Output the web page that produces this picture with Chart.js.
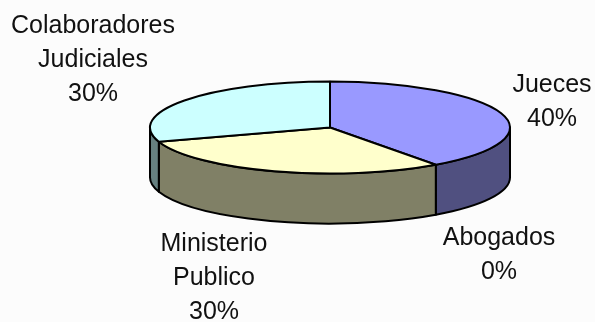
<!DOCTYPE html>
<html>
<head>
<meta charset="utf-8">
<style>html,body{margin:0;padding:0;background:#fcfcfc}canvas{display:block}</style>
<script src="https://cdn.jsdelivr.net/npm/chart.js@4"></script>
</head>
<body>
<canvas id="pie" width="595" height="322"></canvas>
<script>
// Distribution of survey respondents, drawn as a tilted pie with a side wall.
const categories = ['Jueces', 'Abogados', 'Ministerio Publico', 'Colaboradores Judiciales'];
const shares = [40, 0, 30, 30];
const labelLines = [['Jueces', '40%'], ['Abogados', '0%'], ['Ministerio', 'Publico', '30%'], ['Colaboradores', 'Judiciales', '30%']];
const topColors = ['#9999ff', '#993366', '#ffffcc', '#ccffff'];
const wallColors = ['#505080', '#4d1a33', '#808066', '#668080'];
const labelAnchors = [[552, 92], [499, 245], [214, 251], [93, 33]];

const TILT = 46 / 180;      // vertical squash of the pie disc
const DEPTH = 50;           // wall height in pixels
const OUTLINE = 2;
const FONT = '25px "Liberation Sans", Arial, sans-serif';
const LINE_H = 34;

// Side wall below the disc, one segment per slice on the near half.
const wallPlugin = {
  id: 'wall',
  beforeDatasetDraw(chart) {
    const ctx = chart.ctx;
    chart.getDatasetMeta(0).data.forEach((arc, i) => {
      const p = arc.getProps(['x', 'y', 'startAngle', 'endAngle', 'outerRadius'], true);
      const a0 = Math.max(p.startAngle, 0);
      const a1 = Math.min(p.endAngle, Math.PI);
      if (a1 <= a0) return;
      const ry = p.outerRadius * TILT;
      ctx.beginPath();
      ctx.ellipse(p.x, p.y, p.outerRadius, ry, 0, a0, a1);
      ctx.ellipse(p.x, p.y + DEPTH, p.outerRadius, ry, 0, a1, a0, true);
      ctx.closePath();
      ctx.fillStyle = wallColors[i];
      ctx.fill();
      ctx.lineWidth = OUTLINE;
      ctx.strokeStyle = '#000';
      ctx.lineJoin = 'round';
      ctx.stroke();
    });
  }
};

// Apply the squash around the library's own arc drawing; strokes are issued
// in device space so the outline keeps a uniform width.
const tiltPlugin = {
  id: 'tilt',
  beforeDatasetDraw(chart) {
    const arc = chart.getDatasetMeta(0).data[0];
    const ctx = chart.ctx;
    const cx = arc.x, cy = arc.y;
    ctx.save();
    ctx.translate(cx, cy);
    ctx.scale(1, TILT);
    ctx.translate(-cx, -cy);
    const proto = CanvasRenderingContext2D.prototype;
    ctx.stroke = function () {
      const t = ctx.getTransform();
      ctx.setTransform(1, 0, 0, 1, 0, 0);
      proto.stroke.call(ctx);
      ctx.setTransform(t);
    };
  },
  afterDatasetDraw(chart) {
    const ctx = chart.ctx;
    delete ctx.stroke;
    ctx.restore();
  }
};

// Category name and share next to each slice.
const labelPlugin = {
  id: 'sliceLabels',
  afterDraw(chart) {
    const ctx = chart.ctx;
    ctx.save();
    ctx.font = FONT;
    ctx.fillStyle = '#111';
    ctx.textAlign = 'center';
    ctx.textBaseline = 'alphabetic';
    labelLines.forEach((lines, i) => {
      const [x, y] = labelAnchors[i];
      lines.forEach((t, k) => ctx.fillText(t, x, y + k * LINE_H));
    });
    ctx.restore();
  }
};

new Chart(document.getElementById('pie'), {
  type: 'pie',
  data: {
    labels: categories,
    datasets: [{
      data: shares,
      backgroundColor: topColors,
      borderColor: '#000',
      borderWidth: OUTLINE,
      radius: 180
    }]
  },
  options: {
    responsive: false,
    animation: false,
    layout: { padding: { left: 65, right: 0, top: 0, bottom: 67 } },
    plugins: { legend: { display: false }, tooltip: { enabled: false } }
  },
  plugins: [wallPlugin, tiltPlugin, labelPlugin]
});
</script>
</body>
</html>
